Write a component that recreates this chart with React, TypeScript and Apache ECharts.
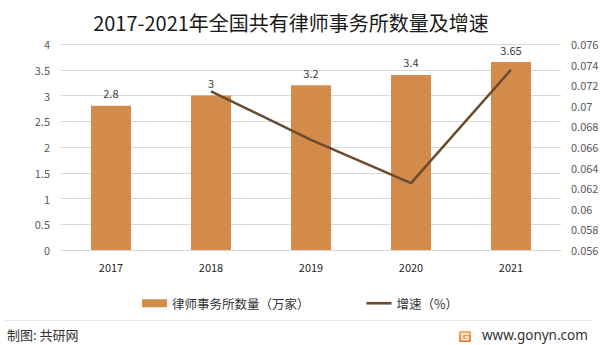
import React, { useEffect, useRef } from "react";
import * as echarts from "echarts";

const categories = ["2017", "2018", "2019", "2020", "2021"];
const firmCounts = [2.8, 3, 3.2, 3.4, 3.65];
const growthRates: (number | null)[] = [null, 0.0714, 0.0667, 0.0625, 0.0735];
const barName = "律师事务所数量（万家）";
const lineName = "增速（%）";
const titleText = "2017-2021年全国共有律师事务所数量及增速";

const FONT = '"Noto Sans CJK SC", "Noto Sans", sans-serif';

export default function App() {
  const ref = useRef<HTMLDivElement>(null);
  useEffect(() => {
    if (!ref.current) return;
    const chart = echarts.init(ref.current, null, { renderer: "svg" });
    chart.setOption({
      animation: false,
      backgroundColor: "#ffffff",
      textStyle: { fontFamily: FONT },
      title: {
        text: titleText,
        left: 286,
        textAlign: "center",
        top: 7,
        textStyle: { fontSize: 20, fontWeight: "normal", color: "#1a1a1a", fontFamily: FONT },
      },
      legend: {
        left: 137,
        top: 292,
        itemWidth: 25,
        itemHeight: 8,
        itemGap: 57,
        textStyle: { fontSize: 12.5, color: "#333333", fontFamily: FONT },
        data: [
          { name: barName, icon: "rect" },
          { name: lineName, icon: "path://M0,0h28v3h-28z" },
        ],
      },
      grid: { left: 61, right: 41, top: 44, bottom: 95 },
      xAxis: {
        type: "category",
        data: categories,
        axisTick: { show: false },
        axisLine: { show: true, lineStyle: { color: "#d9d9d9" } },
        axisLabel: { fontSize: 11, color: "#262626", margin: 11, fontFamily: FONT },
      },
      yAxis: [
        {
          type: "value",
          min: 0,
          max: 4,
          interval: 0.5,
          axisLine: { show: false },
          axisTick: { show: false },
          axisLabel: { fontSize: 11, color: "#595959", margin: 11, fontFamily: FONT },
          splitLine: { lineStyle: { color: "#d9d9d9", width: 1 } },
        },
        {
          type: "value",
          min: 0.056,
          max: 0.076,
          interval: 0.002,
          axisLine: { show: false },
          axisTick: { show: false },
          splitLine: { show: false },
          axisLabel: {
            fontSize: 11,
            color: "#595959",
            margin: 10,
            fontFamily: FONT,
            formatter: (v: number) => String(parseFloat(v.toFixed(3))),
          },
        },
      ],
      series: [
        {
          name: barName,
          type: "bar",
          data: firmCounts,
          barWidth: "40%",
          itemStyle: { color: "#d38b4c" },
          label: {
            show: true,
            position: "top",
            distance: 7,
            fontSize: 11,
            color: "#404040",
            fontFamily: FONT,
          },
        },
        {
          name: lineName,
          type: "line",
          yAxisIndex: 1,
          data: growthRates,
          symbol: "none",
          connectNulls: false,
          lineStyle: { color: "#6b4b2e", width: 2.5 },
          itemStyle: { color: "#6b4b2e" },
        },
      ],
      graphic: [
        {
          type: "line",
          shape: { x1: 5, y1: 320.5, x2: 592, y2: 320.5 },
          style: { stroke: "#e6e6e6", lineWidth: 1 },
        },
        {
          type: "text",
          left: 7,
          top: 328,
          style: { text: "制图: 共研网", fontSize: 13, fill: "#333333", fontFamily: FONT },
        },
        {
          type: "rect",
          shape: { x: 459, y: 331, width: 12, height: 11, r: 1 },
          style: {
            fill: new echarts.graphic.LinearGradient(0, 0, 0, 1, [
              { offset: 0, color: "#f7b267" },
              { offset: 1, color: "#f07a32" },
            ]),
          },
        },
        {
          type: "polyline",
          shape: { points: [[469, 334], [462, 334], [462, 339.5], [468, 339.5], [468, 337], [465, 337]] },
          style: { stroke: "#ffffff", lineWidth: 1.4, fill: "none" },
        },
        {
          type: "text",
          left: 482,
          top: 328,
          style: { text: "www.gonyn.com", fontSize: 13.5, fill: "#333333", fontFamily: '"Noto Sans", sans-serif' },
        },
      ],
    });
    return () => chart.dispose();
  }, []);
  return (
    <div
      ref={ref}
      style={{ position: "fixed", left: 0, top: 0, width: 602, height: 345 }}
    />
  );
}
